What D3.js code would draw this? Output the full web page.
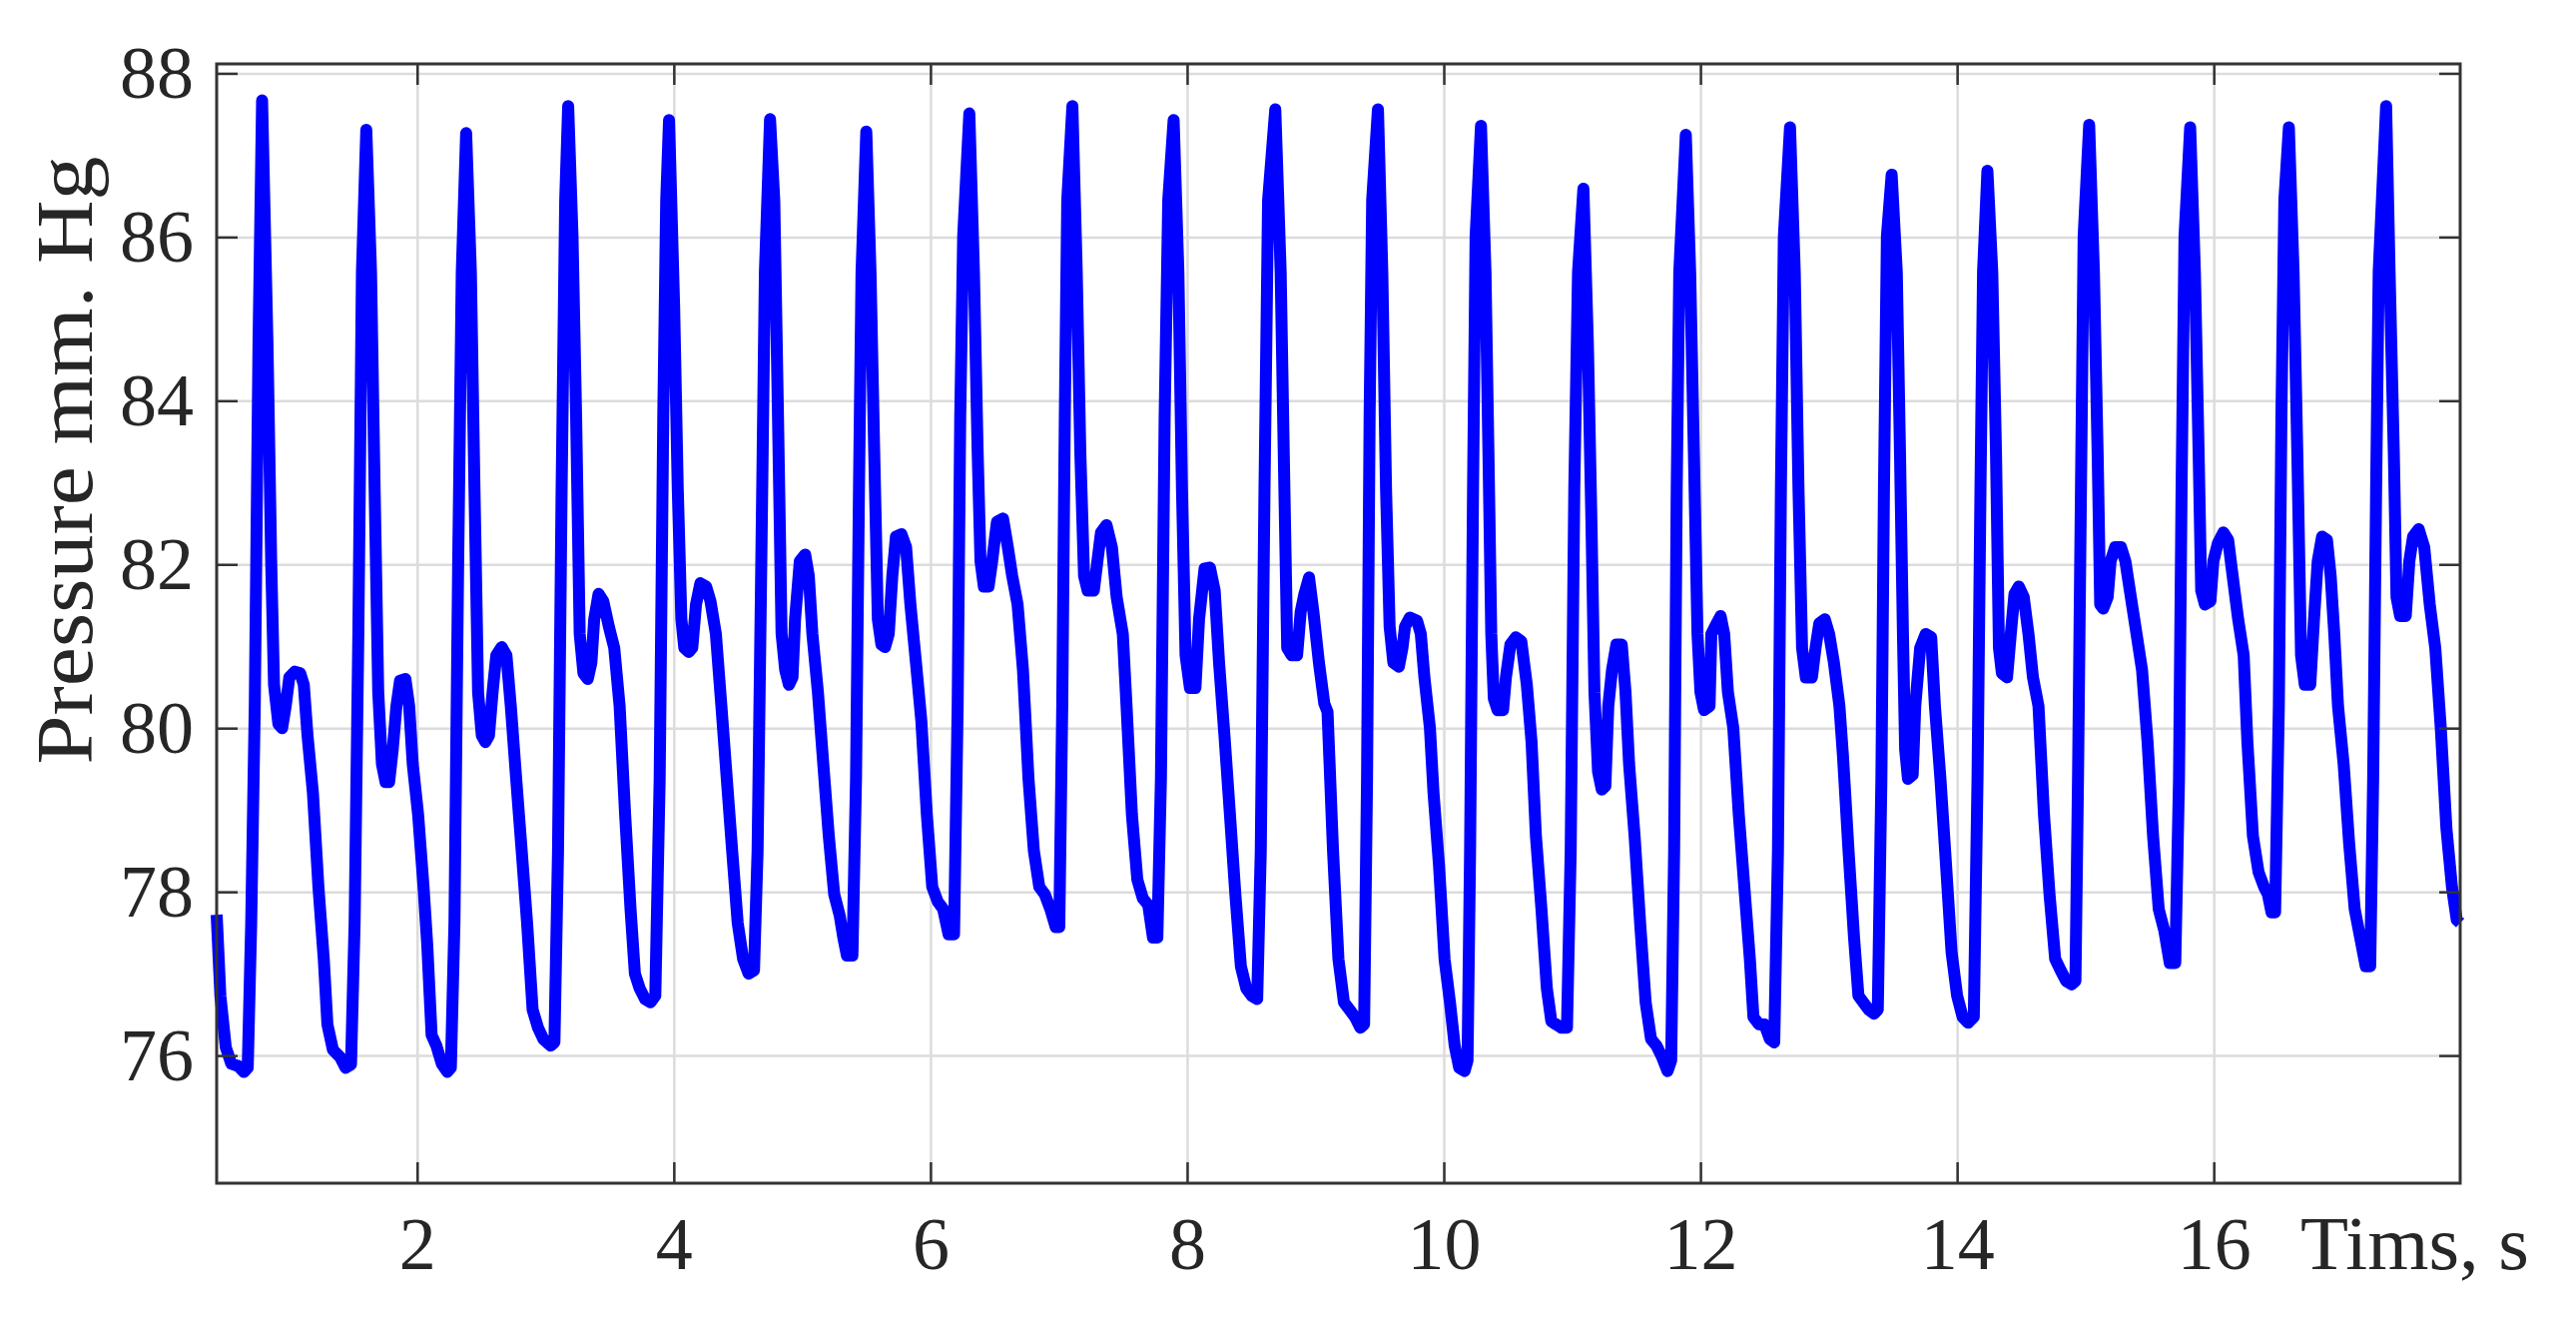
<!DOCTYPE html>
<html>
<head>
<meta charset="utf-8">
<script src="https://cdn.jsdelivr.net/npm/d3@7"></script>
<style>
  body { margin: 0; background: #fff; }
  text { font-family: "Liberation Serif", "Times New Roman", serif; fill: #262626; }
</style>
</head>
<body>
<div id="chart"></div>
<script>
// arterial pressure trace
const timeS = [
  0.438, 0.467, 0.509, 0.552, 0.608, 0.65, 0.68, 0.707, 0.735, 0.764, 0.792, 0.834, 0.863, 0.885, 0.919, 0.948,
  0.976, 1.004, 1.047, 1.089, 1.117, 1.146, 1.188, 1.231, 1.273, 1.301, 1.344, 1.4, 1.443, 1.485,
  1.513, 1.542, 1.57, 1.604, 1.641, 1.669, 1.697, 1.726, 1.754, 1.782, 1.81, 1.839, 1.867, 1.909, 1.938,
  1.966, 2.008, 2.05, 2.079, 2.113, 2.15, 2.192, 2.235, 2.263,
  2.291, 2.32, 2.348, 2.382, 2.419, 2.447, 2.475, 2.504, 2.532, 2.56, 2.588, 2.617, 2.659, 2.696, 2.73,
  2.772, 2.815, 2.857, 2.9, 2.942, 2.984, 3.041, 3.07,
  3.098, 3.126, 3.154, 3.177, 3.211, 3.239, 3.267, 3.296, 3.33, 3.358, 3.38, 3.414, 3.451, 3.494, 3.536,
  3.578, 3.621, 3.663, 3.697, 3.734, 3.776, 3.819, 3.856,
  3.89, 3.918, 3.941, 3.963, 4.003, 4.031, 4.059, 4.082, 4.116, 4.144, 4.173, 4.207, 4.252, 4.286, 4.328,
  4.371, 4.413, 4.455, 4.498, 4.54, 4.583, 4.625,
  4.653, 4.682, 4.71, 4.75, 4.783, 4.812, 4.84, 4.868, 4.897, 4.925, 4.945, 4.982, 5.024, 5.052, 5.08,
  5.123, 5.165, 5.208, 5.25, 5.293, 5.321, 5.349, 5.392,
  5.42, 5.443, 5.463, 5.5, 5.533, 5.562, 5.59, 5.618, 5.646, 5.675, 5.703, 5.731, 5.774, 5.81, 5.844,
  5.887, 5.929, 5.972, 6.014, 6.057, 6.099, 6.141, 6.184,
  6.212, 6.232, 6.255, 6.303, 6.339, 6.368, 6.39, 6.416, 6.453, 6.481, 6.518, 6.566, 6.603, 6.637, 6.679,
  6.721, 6.764, 6.806, 6.848, 6.891, 6.934, 6.976, 7.004,
  7.027, 7.047, 7.066, 7.106, 7.14, 7.168, 7.197, 7.225, 7.273, 7.301, 7.329, 7.372, 7.414, 7.451, 7.499,
  7.528, 7.57, 7.612, 7.655, 7.697, 7.734, 7.768,
  7.796, 7.825, 7.853, 7.895, 7.932, 7.96, 7.988, 8.022, 8.065, 8.093, 8.136, 8.178, 8.215, 8.249, 8.291,
  8.334, 8.376, 8.419, 8.461, 8.503, 8.546,
  8.574, 8.603, 8.631, 8.687, 8.729, 8.758, 8.78, 8.815, 8.857, 8.885, 8.914, 8.95, 8.984, 9.027, 9.069,
  9.094, 9.137, 9.179, 9.222, 9.265, 9.308, 9.35, 9.379,
  9.402, 9.422, 9.442, 9.487, 9.521, 9.55, 9.578, 9.607, 9.65, 9.678, 9.698, 9.735, 9.792, 9.821, 9.849,
  9.892, 9.92, 9.963, 10.006, 10.048, 10.085, 10.12, 10.162, 10.185,
  10.205, 10.228, 10.248, 10.29, 10.325, 10.348, 10.37, 10.39, 10.419, 10.462, 10.484, 10.519, 10.561, 10.604, 10.647,
  10.684, 10.718, 10.761, 10.803, 10.838, 10.875, 10.917, 10.96,
  10.989, 11.017, 11.046, 11.088, 11.123, 11.151, 11.174, 11.202, 11.231, 11.259, 11.282, 11.311, 11.345, 11.387, 11.416,
  11.444, 11.487, 11.53, 11.573, 11.615, 11.658, 11.701, 11.744, 11.772,
  11.795, 11.815, 11.835, 11.886, 11.92, 11.949, 11.977, 12.0, 12.028, 12.071, 12.085, 12.114, 12.157, 12.185, 12.214,
  12.256, 12.299, 12.342, 12.385, 12.413, 12.456, 12.499, 12.541, 12.575,
  12.604, 12.627, 12.65, 12.698, 12.735, 12.764, 12.792, 12.821, 12.869, 12.897, 12.926, 12.969, 13.003, 13.04, 13.083,
  13.111, 13.154, 13.197, 13.231, 13.268, 13.311, 13.353, 13.382,
  13.41, 13.43, 13.453, 13.49, 13.53, 13.555, 13.578, 13.595, 13.617, 13.654, 13.674, 13.712, 13.755, 13.798, 13.827,
  13.87, 13.914, 13.957, 14.0, 14.043, 14.086, 14.13,
  14.159, 14.182, 14.202, 14.236, 14.274, 14.303, 14.326, 14.349, 14.389, 14.418, 14.447, 14.481, 14.519, 14.556, 14.591,
  14.634, 14.677, 14.72, 14.764, 14.807, 14.85, 14.893, 14.922,
  14.942, 14.965, 14.986, 15.029, 15.066, 15.095, 15.115, 15.138, 15.173, 15.196, 15.231, 15.277, 15.311, 15.354, 15.398,
  15.441, 15.484, 15.527, 15.571, 15.614, 15.657, 15.7,
  15.729, 15.749, 15.772, 15.816, 15.853, 15.882, 15.902, 15.931, 15.974, 15.997, 16.032, 16.075, 16.112, 16.147, 16.19,
  16.233, 16.262, 16.305, 16.349, 16.392, 16.421, 16.45, 16.478,
  16.507, 16.527, 16.55, 16.585, 16.622, 16.651, 16.68, 16.709, 16.752, 16.781, 16.81, 16.844, 16.882, 16.911, 16.939,
  16.968, 17.012, 17.055, 17.098, 17.141, 17.184, 17.219,
  17.242, 17.265, 17.285, 17.343, 17.37, 17.403, 17.424, 17.452, 17.496, 17.524, 17.553, 17.597, 17.64, 17.683, 17.726,
  17.769, 17.813, 17.856, 17.893, 17.92
];

const pressureMmHg = [
  77.72, 76.73, 76.1, 75.9, 75.87, 75.8, 75.85, 77.6, 80.27, 84.7, 87.67, 84.69, 82.03, 80.53, 80.05, 80.0,
  80.27, 80.62, 80.69, 80.67, 80.53, 79.91, 79.21, 78.06, 77.17, 76.38, 76.07, 75.98, 75.85, 75.89,
  77.62, 81.15, 85.57, 87.31, 85.57, 82.92, 80.44, 79.56, 79.34, 79.34, 79.74, 80.27, 80.58, 80.6, 80.27,
  79.56, 78.94, 78.06, 77.35, 76.25, 76.12, 75.9, 75.8, 75.85,
  77.62, 82.04, 85.57, 87.27, 85.57, 82.92, 80.44, 79.91, 79.83, 79.91, 80.44, 80.89, 80.99, 80.89, 80.27,
  79.38, 78.5, 77.62, 76.56, 76.34, 76.2, 76.12, 76.16,
  78.5, 82.92, 86.45, 87.6, 86.01, 83.8, 81.15, 80.67, 80.6, 80.8, 81.33, 81.64, 81.55, 81.24, 80.98,
  80.27, 78.94, 77.79, 77.0, 76.82, 76.69, 76.65, 76.73,
  79.38, 83.8, 86.45, 87.43, 85.13, 82.92, 81.33, 80.98, 80.93, 80.98, 81.51, 81.77, 81.73, 81.55, 81.15,
  80.27, 79.38, 78.5, 77.62, 77.18, 77.0, 77.04,
  78.5, 82.04, 85.57, 87.44, 86.45, 83.8, 81.15, 80.71, 80.53, 80.62, 81.33, 82.04, 82.12, 81.86, 81.15,
  80.44, 79.56, 78.68, 77.97, 77.71, 77.44, 77.22, 77.22,
  79.38, 82.92, 85.57, 87.29, 85.57, 83.36, 81.33, 81.02, 80.99, 81.15, 81.86, 82.34, 82.37, 82.21, 81.51,
  80.8, 80.09, 78.94, 78.06, 77.88, 77.79, 77.48, 77.48,
  80.27, 83.8, 86.01, 87.51, 85.57, 83.36, 82.04, 81.73, 81.73, 82.04, 82.52, 82.56, 82.21, 81.86, 81.51,
  80.71, 79.38, 78.5, 78.06, 77.97, 77.79, 77.57, 77.57,
  80.27, 83.8, 86.45, 87.6, 85.57, 83.36, 81.86, 81.68, 81.68, 82.04, 82.39, 82.48, 82.21, 81.6, 81.15,
  80.27, 78.94, 78.15, 77.92, 77.84, 77.44, 77.44,
  79.38, 83.8, 86.45, 87.43, 85.57, 82.92, 80.89, 80.49, 80.49, 81.33, 81.95, 81.96, 81.68, 80.8, 79.91,
  78.94, 77.97, 77.09, 76.82, 76.73, 76.69,
  78.5, 82.92, 86.45, 87.56, 85.57, 82.92, 80.98, 80.89, 80.89, 81.42, 81.64, 81.84, 81.42, 80.8, 80.3,
  80.2, 78.5, 77.18, 76.65, 76.56, 76.47, 76.34, 76.38,
  79.38, 83.8, 86.45, 87.56, 85.57, 82.92, 81.24, 80.8, 80.75, 80.98, 81.24, 81.35, 81.31, 81.15, 80.62,
  80.0, 79.21, 78.32, 77.18, 76.65, 76.12, 75.85, 75.81, 75.94,
  78.5, 82.92, 86.01, 87.36, 85.57, 83.36, 81.15, 80.36, 80.22, 80.22, 80.62, 81.02, 81.11, 81.06, 80.53,
  79.83, 78.68, 77.79, 76.82, 76.42, 76.38, 76.34, 76.34,
  78.5, 82.92, 85.57, 86.59, 84.69, 82.48, 80.44, 79.47, 79.25, 79.29, 80.27, 80.71, 81.02, 81.02, 80.44,
  79.56, 78.68, 77.62, 76.65, 76.2, 76.12, 75.98, 75.81, 75.94,
  78.5, 82.92, 85.57, 87.25, 85.57, 83.36, 81.15, 80.44, 80.22, 80.27, 81.15, 81.24, 81.37, 81.15, 80.44,
  80.0, 78.94, 78.06, 77.18, 76.47, 76.38, 76.38, 76.2, 76.16,
  78.5, 82.92, 86.01, 87.34, 85.57, 82.92, 80.98, 80.62, 80.62, 80.98, 81.28, 81.33, 81.15, 80.8, 80.27,
  79.65, 78.5, 77.44, 76.73, 76.65, 76.56, 76.51, 76.56,
  79.38, 82.92, 86.01, 86.76, 85.57, 83.36, 81.15, 79.74, 79.38, 79.43, 80.27, 80.98, 81.15, 81.11, 80.27,
  79.38, 78.32, 77.26, 76.73, 76.47, 76.4, 76.47,
  79.38, 82.92, 85.57, 86.81, 85.57, 83.36, 80.98, 80.67, 80.62, 81.15, 81.64, 81.73, 81.6, 81.15, 80.62,
  80.27, 78.94, 77.97, 77.18, 77.04, 76.91, 76.87, 76.91,
  79.38, 82.92, 86.01, 87.37, 85.57, 83.36, 81.51, 81.46, 81.6, 82.04, 82.21, 82.21, 82.04, 81.6, 81.15,
  80.71, 79.83, 78.68, 77.79, 77.53, 77.13, 77.13,
  79.38, 82.92, 86.01, 87.34, 85.57, 83.36, 81.68, 81.51, 81.55, 82.04, 82.26, 82.39, 82.3, 81.86, 81.33,
  80.89, 79.83, 78.68, 78.24, 78.06, 77.97, 77.75, 77.75,
  80.27, 83.8, 86.45, 87.34, 85.57, 83.36, 80.89, 80.53, 80.53, 81.33, 82.04, 82.34, 82.3, 81.86, 81.15,
  80.27, 79.56, 78.59, 77.79, 77.44, 77.09, 77.09,
  79.38, 82.92, 85.57, 87.6, 85.57, 83.36, 81.6, 81.37, 81.37, 82.04, 82.34, 82.43, 82.21, 81.51, 80.98,
  80.0, 78.77, 78.06, 77.66, 77.62
];

const xTicks = [2, 4, 6, 8, 10, 12, 14, 16];
const yTicks = [76, 78, 80, 82, 84, 86, 88];
const xDomain = [0.438, 17.92];
const yDomain = [74.44, 88.115];
const xLabel = "Tims, s";
const yLabel = "Pressure mm. Hg";

const W = 2580, H = 1320;
const margin = {top: 64, right: 116, bottom: 135, left: 217};
const width = W - margin.left - margin.right,
      height = H - margin.top - margin.bottom;

const svg = d3.select("#chart").append("svg")
  .attr("width", W)
  .attr("height", H)
  .style("background", "#fff");

const g = svg.append("g")
  .attr("transform", "translate(" + margin.left + "," + margin.top + ")");

const x = d3.scaleLinear().domain(xDomain).range([0, width]);
const y = d3.scaleLinear().domain(yDomain).range([height, 0]);

// grid
g.append("g")
  .attr("class", "grid")
  .attr("transform", "translate(0," + height + ")")
  .call(d3.axisBottom(x).tickValues(xTicks).tickSize(-height).tickSizeOuter(0).tickFormat(""));
g.append("g")
  .attr("class", "grid")
  .call(d3.axisLeft(y).tickValues(yTicks).tickSize(-width).tickSizeOuter(0).tickFormat(""));
g.selectAll(".grid .domain").remove();
g.selectAll(".grid line").attr("stroke", "#dcdcdc").attr("stroke-width", 2.5);

// trace
const pts = timeS.map(function(t, i) { return [t, pressureMmHg[i]]; });
const line = d3.line()
  .x(function(d) { return x(d[0]); })
  .y(function(d) { return y(d[1]); });

g.append("path")
  .datum(pts)
  .attr("fill", "none")
  .attr("stroke", "#0000ff")
  .attr("stroke-width", 12)
  .attr("stroke-linejoin", "round")
  .attr("d", line);

// axes, ticks pointing inward on all four sides
const tickLen = 21;
const axB = g.append("g").attr("transform", "translate(0," + height + ")")
  .call(d3.axisBottom(x).tickValues(xTicks).tickSize(-tickLen).tickSizeOuter(0).tickFormat(d3.format("d")));
const axL = g.append("g")
  .call(d3.axisLeft(y).tickValues(yTicks).tickSize(-tickLen).tickSizeOuter(0).tickPadding(23).tickFormat(d3.format("d")));
g.append("g")
  .call(d3.axisTop(x).tickValues(xTicks).tickSize(-tickLen).tickSizeOuter(0).tickFormat(""));
g.append("g").attr("transform", "translate(" + width + ",0)")
  .call(d3.axisRight(y).tickValues(yTicks).tickSize(-tickLen).tickSizeOuter(0).tickFormat(""));

g.selectAll(".domain").remove();
svg.selectAll("g:not(.grid) > .tick line").attr("stroke", "#333").attr("stroke-width", 2.5);

axB.selectAll("text")
  .attr("y", 86).attr("dy", 0)
  .style("font-size", "74px")
  .style("font-family", "'Liberation Serif', serif")
  .attr("fill", "#262626");
axL.selectAll("text")
  .attr("dy", "0.33em")
  .style("font-size", "74px")
  .style("font-family", "'Liberation Serif', serif")
  .attr("fill", "#262626");

g.append("rect")
  .attr("width", width)
  .attr("height", height)
  .attr("fill", "none")
  .attr("stroke", "#333")
  .attr("stroke-width", 3);

// labels
svg.append("text")
  .attr("x", 2304)
  .attr("y", margin.top + height + 86)
  .attr("textLength", 229)
  .attr("lengthAdjust", "spacingAndGlyphs")
  .style("font-size", "76px")
  .text(xLabel);

svg.append("text")
  .attr("transform", "translate(92,461) rotate(-90)")
  .attr("text-anchor", "middle")
  .attr("textLength", 609)
  .attr("lengthAdjust", "spacingAndGlyphs")
  .style("font-size", "80px")
  .text(yLabel);
</script>
</body>
</html>
